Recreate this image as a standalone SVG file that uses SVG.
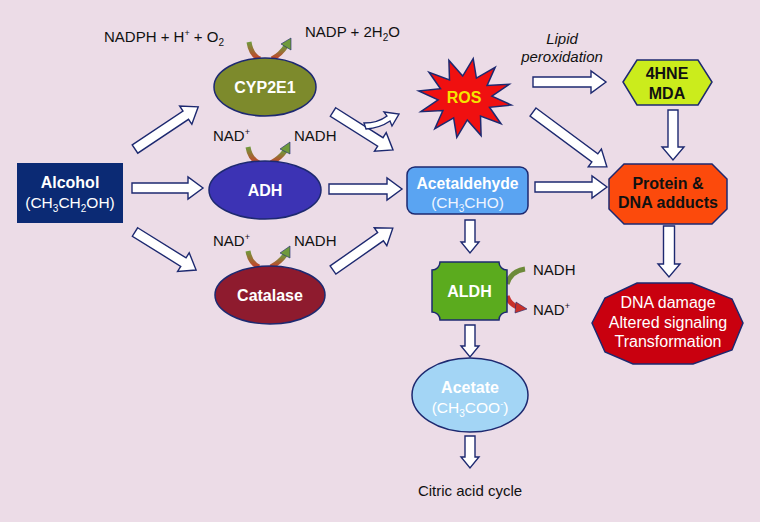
<svg xmlns="http://www.w3.org/2000/svg" width="760" height="522" viewBox="0 0 760 522">
<style>
.t{font-family:"Liberation Sans",Arial,sans-serif;}
.b{font-weight:bold;}
.w{fill:#ffffff;}
.k{fill:#111111;}
.ar{fill:#ffffff;stroke:#1d2970;stroke-width:1.4;stroke-linejoin:miter;}
.nd{stroke:#1d2970;stroke-width:1.5;}
.cof{fill:none;stroke:url(#gr);stroke-width:5;}
</style>
<defs>
<linearGradient id="gr" x1="0" y1="0" x2="0" y2="1">
<stop offset="0" stop-color="#6f9a3c"/>
<stop offset="1" stop-color="#c8402a"/>
</linearGradient>
</defs>
<rect width="760" height="522" fill="#ecdce7"/>

<g id="connectors">
<polygon class="ar" transform="translate(135,149) rotate(-33.7)" points="0,-5 61,-5 61,-11 76,0 61,11 61,5 0,5"/>
<polygon class="ar" transform="translate(132,188)" points="0,-5 56,-5 56,-11 71,0 56,11 56,5 0,5"/>
<polygon class="ar" transform="translate(135,232) rotate(31.9)" points="0,-5 57,-5 57,-11 72,0 57,11 57,5 0,5"/>
<polygon class="ar" transform="translate(333,112) rotate(32.3)" points="0,-5 56,-5 56,-11 71,0 56,11 56,5 0,5"/>
<path class="ar" d="M364,123 Q378,123 387,116 L384,112 L399,114 L392,126 L390,121 Q380,128 366,129 Z"/>
<polygon class="ar" transform="translate(329,189)" points="0,-5 58,-5 58,-11 73,0 58,11 58,5 0,5"/>
<polygon class="ar" transform="translate(333,270) rotate(-35)" points="0,-5 58,-5 58,-11 73,0 58,11 58,5 0,5"/>
<polygon class="ar" transform="translate(533,82)" points="0,-5 58,-5 58,-11 73,0 58,11 58,5 0,5"/>
<polygon class="ar" transform="translate(533,112) rotate(36.6)" points="0,-5 77,-5 77,-11 92,0 77,11 77,5 0,5"/>
<polygon class="ar" transform="translate(535,187)" points="0,-5 57,-5 57,-11 72,0 57,11 57,5 0,5"/>
<polygon class="ar" transform="translate(673,110) rotate(90)" points="0,-5 37,-5 37,-11 50,0 37,11 37,5 0,5"/>
<polygon class="ar" transform="translate(669,226) rotate(90)" points="0,-5.5 38,-5.5 38,-11 51,0 38,11 38,5.5 0,5.5"/>
<polygon class="ar" transform="translate(470,220) rotate(90)" points="0,-5 22,-5 22,-9 33,0 22,9 22,5 0,5"/>
<polygon class="ar" transform="translate(470,325) rotate(90)" points="0,-5 21,-5 21,-9 32,0 21,9 21,5 0,5"/>
<polygon class="ar" transform="translate(470,436) rotate(90)" points="0,-5 21,-5 21,-9 32,0 21,9 21,5 0,5"/>

<!-- cofactor arcs -->
<path class="cof" d="M249,42 Q251,55 260,59"/>
<path class="cof" d="M272,59 Q281,54 286,46"/>
<polygon fill="#6f9a3c" stroke="#1d2970" stroke-width="0.6" points="281,44 291,38 291,50"/>
<path class="cof" d="M248,147 Q250,159 259,163"/>
<path class="cof" d="M271,163 Q280,158 285,151"/>
<polygon fill="#6f9a3c" stroke="#1d2970" stroke-width="0.6" points="280,149 290,142 290,154"/>
<path class="cof" d="M248,251 Q250,263 259,267"/>
<path class="cof" d="M271,267 Q280,262 285,255"/>
<polygon fill="#6f9a3c" stroke="#1d2970" stroke-width="0.6" points="280,253 290,246 290,258"/>
<path d="M525,269 Q511,271 507,284" fill="none" stroke="#6d8a3a" stroke-width="5"/>
<path d="M507,296 Q510,305 518,307" fill="none" stroke="#c8302a" stroke-width="5"/>
<polygon fill="#c8302a" stroke="#1d2970" stroke-width="0.6" points="516,302 527,309 515,313"/>
</g>

<g id="alcohol">
<rect x="17" y="163" width="106" height="60" fill="#0b2a74"/>
<text class="t b w" x="70" y="188" font-size="16" text-anchor="middle">Alcohol</text>
<text class="t w" x="70" y="208" font-size="15.5" text-anchor="middle">(CH<tspan font-size="10" dy="4">3</tspan><tspan dy="-4">CH</tspan><tspan font-size="10" dy="4">2</tspan><tspan dy="-4">OH)</tspan></text>
</g>

<g id="cyp2e1">
<ellipse class="nd" cx="265" cy="87" rx="51" ry="29" fill="#7d8a2c"/>
<text class="t b w" x="265" y="93" font-size="16" text-anchor="middle">CYP2E1</text>
<text class="t k" x="104" y="42" font-size="15">NADPH + H<tspan font-size="9" dy="-6">+</tspan><tspan dy="6"> + O</tspan><tspan font-size="10" dy="4">2</tspan></text>
<text class="t k" x="305" y="37" font-size="15">NADP + 2H<tspan font-size="10" dy="4">2</tspan><tspan dy="-4">O</tspan></text>
</g>

<g id="adh">
<ellipse class="nd" cx="265" cy="190" rx="56" ry="29" fill="#3c33b4"/>
<text class="t b w" x="265" y="196" font-size="16" text-anchor="middle">ADH</text>
<text class="t k" x="213" y="141" font-size="15">NAD<tspan font-size="9" dy="-6">+</tspan></text>
<text class="t k" x="294" y="141" font-size="15">NADH</text>
</g>

<g id="catalase">
<ellipse class="nd" cx="270" cy="295" rx="55" ry="29" fill="#8e1b2e"/>
<text class="t b w" x="270" y="301" font-size="16" text-anchor="middle">Catalase</text>
<text class="t k" x="213" y="246" font-size="15">NAD<tspan font-size="9" dy="-6">+</tspan></text>
<text class="t k" x="294" y="246" font-size="15">NADH</text>
</g>

<g id="ros">
<polygon class="nd" fill="#f01010" points="473.2,58.6 476.4,78.1 495.2,67.4 487.1,85.4 509.2,84.3 491.9,96.1 511.3,105 489.5,107.3 501,123.7 480.5,116 481.1,135.6 467.3,119.9 456.8,137.4 453.6,117.9 434.8,128.6 442.9,110.6 420.8,111.7 438.1,99.9 418.7,91 440.5,88.7 429,72.3 449.5,80 448.9,60.4 462.7,76.1"/>
<text class="t b" x="464" y="103" font-size="16" text-anchor="middle" fill="#f5e400">ROS</text>
</g>

<g id="lipid">
<text class="t k" x="562" y="44" font-size="15" font-style="italic" text-anchor="middle">Lipid</text>
<text class="t k" x="562" y="62" font-size="15" font-style="italic" text-anchor="middle">peroxidation</text>
</g>

<g id="acetaldehyde">
<rect class="nd" x="407" y="167" width="121" height="47" rx="8" fill="#5aa4f2"/>
<text class="t b w" x="467.5" y="189" font-size="15.7" text-anchor="middle">Acetaldehyde</text>
<text class="t" x="467.5" y="208" font-size="15.5" text-anchor="middle" fill="#eef4ff">(CH<tspan font-size="10" dy="4">3</tspan><tspan dy="-4">CHO)</tspan></text>
</g>

<g id="hne">
<polygon class="nd" fill="#cbec1c" points="623,82 637,60 698,60 712,82 698,105 637,105"/>
<text class="t b k" x="667" y="79" font-size="16" text-anchor="middle">4HNE</text>
<text class="t b k" x="667" y="99" font-size="16" text-anchor="middle">MDA</text>
</g>

<g id="adducts">
<polygon class="nd" fill="#fc4a0c" points="624,164 712,164 727,179 727,209 712,224 624,224 609,209 609,179"/>
<text class="t b k" x="668" y="189" font-size="16" text-anchor="middle">Protein &amp;</text>
<text class="t b k" x="668" y="208" font-size="16" text-anchor="middle">DNA adducts</text>
</g>

<g id="damage">
<polygon class="nd" fill="#c9000f" points="592,323 605,298 637,283 692,283 732,299 743,323 732,350 693,364 633,364 605,352"/>
<text class="t w" x="668" y="308" font-size="16" text-anchor="middle">DNA damage</text>
<text class="t w" x="668" y="328" font-size="16" text-anchor="middle">Altered signaling</text>
<text class="t w" x="668" y="347" font-size="16" text-anchor="middle">Transformation</text>
</g>

<g id="aldh">
<path class="nd" fill="#5bab1e" d="M440,262 H499 A8,8 0 0 0 507,270 V312 A8,8 0 0 0 499,320 H440 A8,8 0 0 0 432,312 V270 A8,8 0 0 0 440,262 Z"/>
<text class="t b w" x="469.5" y="297" font-size="16" text-anchor="middle">ALDH</text>
<text class="t k" x="533" y="275" font-size="15">NADH</text>
<text class="t k" x="533" y="315" font-size="15">NAD<tspan font-size="9" dy="-6">+</tspan></text>
</g>

<g id="acetate">
<ellipse class="nd" cx="470" cy="395" rx="58" ry="37" fill="#a3d5f5"/>
<text class="t b w" x="470" y="393" font-size="16" text-anchor="middle">Acetate</text>
<text class="t w" x="470" y="413" font-size="15.5" text-anchor="middle">(CH<tspan font-size="10" dy="4">3</tspan><tspan dy="-4">COO</tspan><tspan font-size="9" dy="-6">-</tspan><tspan dy="6">)</tspan></text>
</g>

<g id="citric">
<text class="t k" x="470" y="496" font-size="15" text-anchor="middle">Citric acid cycle</text>
</g>
</svg>
